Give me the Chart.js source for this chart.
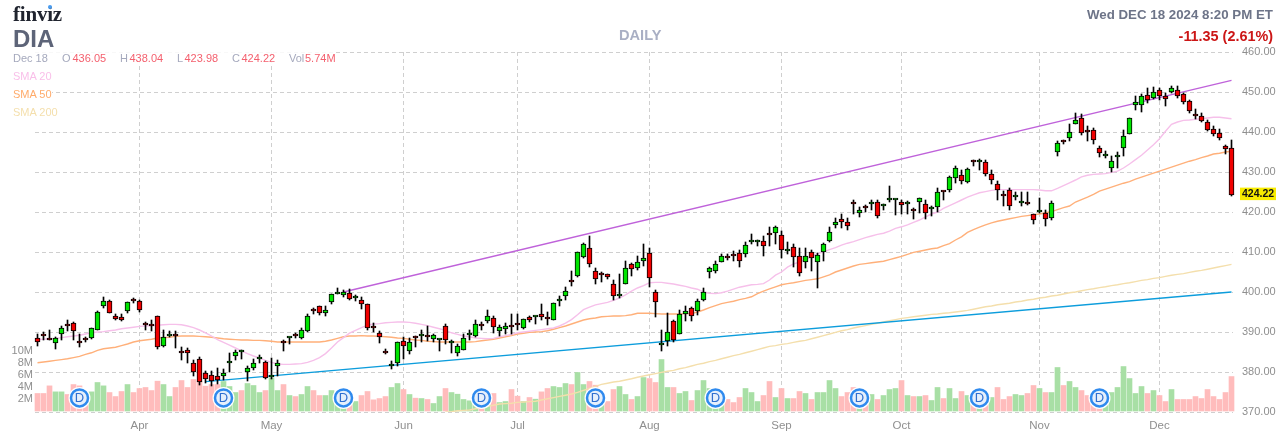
<!DOCTYPE html>
<html>
<head>
<meta charset="utf-8">
<title>DIA daily</title>
<script src="https://cdn.jsdelivr.net/npm/chart.js@4/dist/chart.umd.min.js"></script>
<style>
html,body{margin:0;padding:0;background:#fff;width:1287px;height:442px;overflow:hidden}
#wrap{position:relative;width:1287px;height:442px;font-family:"Liberation Sans",Arial,sans-serif}
canvas{position:absolute;left:0;top:0;display:block}
.t{position:absolute;white-space:nowrap;line-height:1}
.g{color:#a5a9bd}.r{color:#f4606e}
</style>
</head>
<body>
<div id="wrap">
<canvas id="c" width="1287" height="442"></canvas>
<div class="t" style="left:13px;top:2px;font:bold 21px 'Liberation Serif',serif;letter-spacing:-.2px;color:#20242f">finviz</div>
<div class="t" style="left:47.5px;top:4.5px;width:4px;height:4px;border-radius:50%;background:#4a9cf0"></div>
<div class="t" style="left:13px;top:25px;font:bold 24px 'Liberation Sans',sans-serif;color:#5d6478">DIA</div>
<div class="t" style="left:619px;top:27px;font:bold 14.6px 'Liberation Sans',sans-serif;color:#a9afc4">DAILY</div>
<div class="t" style="right:14px;top:7px;font:bold 13.3px 'Liberation Sans',sans-serif;color:#6d7488">Wed DEC 18 2024 8:20 PM ET</div>
<div class="t" style="right:14px;top:28px;font:bold 14.4px 'Liberation Sans',sans-serif;color:#cc1616">-11.35 (2.61%)</div>
<div style="position:absolute;left:12px;top:52px;width:324px;height:13px;background:rgba(255,255,255,.85)"></div>
<div class="t g" style="left:13px;top:53px;font-size:11px">Dec 18</div>
<div class="t g" style="left:62px;top:53px;font-size:11px">O</div><div class="t r" style="left:72.5px;top:53px;font-size:11px">436.05</div>
<div class="t g" style="left:120px;top:53px;font-size:11px">H</div><div class="t r" style="left:129.5px;top:53px;font-size:11px">438.04</div>
<div class="t g" style="left:177px;top:53px;font-size:11px">L</div><div class="t r" style="left:184.5px;top:53px;font-size:11px">423.98</div>
<div class="t g" style="left:232px;top:53px;font-size:11px">C</div><div class="t r" style="left:241.5px;top:53px;font-size:11px">424.22</div>
<div class="t g" style="left:289px;top:53px;font-size:11px">Vol</div><div class="t r" style="left:305px;top:53px;font-size:11px">5.74M</div>
<div class="t" style="left:13px;top:71px;font-size:11px;color:#f9bfe9;background:#fff">SMA 20</div>
<div class="t" style="left:13px;top:89px;font-size:11px;color:#ffab6b;background:#fff">SMA 50</div>
<div class="t" style="left:13px;top:107px;font-size:11px;color:#f4dfac;background:#fff">SMA 200</div>
</div>
<script>
// Daily session index: 0 = oldest candle, 199 = Dec 18 2024
const openPrices = [
388.5,389.1,388.2,387.3,389.5,391.7,392.3,387.8,388.1,388.5,
390.5,396.5,397.8,394,393.8,395.2,398,397.8,392,391.7,
394.1,386.5,388.9,389.6,385,385.5,382.3,383.3,379.8,379.3,
379,379,382.2,384,384.9,380,381,383.3,382.5,378.8,
381.5,387.5,388.5,389.3,388.5,390.2,395.4,396.5,394.7,397.5,
399.6,399.2,399.7,398.4,398,397,391.1,389.8,385.3,381.5,
382.3,387.8,385.2,388.7,389.1,389,388.3,388,391.5,387.3,
384.8,385.5,389.2,389,391.8,392.7,393.5,390.2,390.7,391.3,
391.9,391,393.8,393.7,394.5,393.3,393.1,397.7,398.9,402.6,
403.9,408.7,410.9,405.3,404.5,404.4,401.9,398.9,401.9,406.9,
405.9,407.7,409.8,400.1,386.7,387.7,392.8,389.6,394.5,396,
395.2,398,405,405.3,407.5,408.6,409.1,409.8,409.5,412.6,
412.5,412.8,414.3,414.7,414.3,410.3,411.3,408.9,407.5,410,
407.5,410,412.8,416.7,418.3,417.5,422,419.8,421,422.1,
422.5,421.5,422.9,422.9,422.6,422.1,420.4,422.5,422,420.8,
421.2,425.1,425.5,428.5,429.3,427.5,432.7,432.6,432.5,429.4,
427.1,424.2,425.6,423.8,422.3,422.1,419.4,420,419.8,418.5,
434.9,437.6,438.5,442.1,443.5,440.2,440.5,435.9,434,431,
433.7,436,439.6,446.7,446.8,449.3,448.5,450.5,449.1,450,
450.5,449.5,447.8,444.5,444,442.5,440.8,439.8,436.4,436.05];
const highPrices = [
389.4,389.9,390.6,388.8,391.6,392.9,392.5,389.4,388.8,391,
395.2,398.8,397.9,394.4,394.4,397.6,398.6,398.1,392.5,393.1,
394.1,390.6,390.2,390.2,386.2,386,382.9,383.8,380.2,380.2,
381,380.8,384.8,385.6,385.4,381.6,383.3,384.3,382.7,383.5,
383.1,388.1,388.8,389.8,391,394.4,396,396.6,396.5,399.4,
401,400.4,400.8,399.2,398.8,397,392.3,390.2,385.8,382.7,
387.5,388.8,388.5,389,390.6,391.6,389.4,388.3,392,388,
386.9,389.4,390.5,393.1,392.5,395.6,394.1,391.8,392.3,394.4,
394.4,393.3,394,394,396.9,395,397.3,399.1,401.3,405.2,
410,412.3,413.9,406,405,404.5,402.9,404.6,407.7,407.3,
409,412.1,411,400.6,390.4,394.8,393,395.4,396.6,396.2,
398.3,401,406.3,407.7,409.4,409.4,410.2,410.6,412.5,414.6,
413.1,414.1,416.3,416.6,415.3,412.5,411.9,411,411,410.4,
409.8,412.3,416.3,418.6,419.6,418.5,422.9,421.3,421.7,422.9,
423,422.1,426.4,423.3,423,422.7,421,423.5,422.9,421.5,
425.9,425.2,429,431.6,430.6,431.1,433.1,433.3,432.9,430.6,
427.7,425.2,426,425,425,424.9,419.4,423.4,420.4,422.7,
437.7,438.1,441.9,444.8,444.4,441.4,441,436.6,435.2,434.1,
434.9,440.5,443.5,448.9,449.5,450.9,451.3,451,449.8,451.5,
451.6,449.8,448.1,445.8,444.8,443.1,441.6,440.8,436.8,438.04];
const lowPrices = [
386.5,387.9,388,385.8,388.1,390.2,388,386.2,387.6,388.3,
390.4,396,394.7,392.9,392.8,394.7,397.2,395,390.5,390.2,
385.8,386.3,388.8,386,383.1,382.3,379,376.7,377.3,376.5,
377,378,380,383.1,383.3,377.7,380.6,382.3,378.3,378.3,
379.1,385.2,387,388.5,388.3,390,394.4,394.2,394,397.1,
399.4,398.8,398,397.7,395.8,390.6,390,387.3,384.5,380.8,
381.5,383.3,384.6,386.2,387.5,387.7,387.5,385.2,387,384.8,
384,385.4,388.1,388.8,390.6,392.3,389.8,389.1,389.4,389.4,
390.5,390.8,392.4,392.1,393,391.7,393,396.5,398.1,401.5,
403.8,408.5,406.2,402.1,402.5,403.3,398.1,398.5,401.9,404.1,
405.5,406.6,401.2,393.8,385.2,386.5,387.5,389.4,392.7,392.7,
394.2,397.7,403.4,404.8,407.5,407.9,407.7,406.2,408.7,411.9,
411.5,408.9,411.5,412.1,408.6,409.4,406.3,404,406.1,405.2,
400.9,407.7,412.5,416,415.9,415.6,419.6,418.7,420,420.6,
418.6,420.4,422.5,419.2,419.4,419.6,418.3,419.8,418.3,418.9,
420,423,425.1,427.3,427.1,427.2,431.5,430.4,428.9,426.9,
423.1,421.4,420.6,423.1,421.6,421.8,417.1,419.8,416.6,417.9,
433.9,436.9,437.7,441.9,439.2,437.7,437.1,433.7,433.4,430,
431,433.9,439.5,445.6,444.9,447.3,448.3,448.1,446.6,449.8,
448.5,447,444.8,443.3,442.5,440.2,439.1,438.1,434.6,423.98];
const closePrices = [
387.5,388.9,388,388.5,390.9,391.5,390.2,387.3,387.9,390.9,
395,397.7,394.8,393.2,393,397.5,397.8,395.5,391.8,391.5,
386.2,388.8,389.1,389.1,384.8,384.8,380,377.5,378.3,377.8,
378,379.8,382.4,385,385,381,382.3,383.8,378.4,378.9,
382.3,387.3,388.6,389.1,390.5,394.1,395.2,394.7,395.5,399.4,
399.8,400,398.3,398.6,397,390.9,390.9,388.8,384.8,381.6,
387.5,386.6,387.5,388.6,389.3,388.8,389.2,388.1,388,387.4,
386.5,388.5,389.3,392,391.6,394,391.2,391.3,391.5,391.2,
391.8,393.3,393,393.9,393.7,393.2,397.3,397.8,400.3,402.5,
409.9,412,407,403.2,404.3,403.7,398.9,399.6,406,405.7,
407.5,408.5,403.5,397.5,386.8,390,388,394.5,395.3,394,
397.8,400,406,406.9,409.1,408.5,409,407.7,411.7,412.7,
413,411.5,414.2,416.3,410.5,410.5,408.8,404.8,409,408.5,
409.2,411.9,415,417.5,417.5,416.5,421.9,420.5,420.9,422.2,
419.1,421.6,423,423.1,421.7,422.3,420.3,423.5,419.7,421,
425,425,428.8,431,427.7,430.7,432.6,432.8,429.5,428,
425.5,424,421.5,424.1,422.5,421.9,418,420.6,418.3,422.3,
437.3,437.4,440,443.1,439.8,440,438,434.8,434.2,432.7,
434.3,439.1,443.4,447.5,448.9,448,450,448.9,448.3,451,
449,447.5,445.3,444,442.8,440.5,439.5,438.5,435.7,424.22];
const volumeMillions = [
2.92,2.92,4.19,3.19,3.19,2.75,4.41,4.19,3.19,3.19,
4.75,4.19,3.08,2.41,3.25,4.41,3.08,3.75,3.92,3.41,
4.97,4.41,2.41,3.92,5.08,3.92,5.25,4.97,4.14,4.41,
4.41,4.92,4.08,3.08,3.41,4.58,4.25,3.08,3.41,5.52,
3.41,4.41,2.58,2.41,2.75,4.08,3.41,2.58,2.58,3.41,
3,2.2,2.9,1.58,2.58,3.25,1.86,2.08,2.41,3.92,
4.58,3.58,2.75,2.14,2.08,1.92,1.25,2.41,3.75,3.08,
2.8,1.92,1.7,2,2.4,2.2,2.92,1.41,1.58,3.58,
2.47,1.58,2.25,1.97,3.19,3.75,4.08,3.92,4.58,4.41,
6.42,4.41,4.92,4.3,2.4,1.58,3.58,4.08,2.75,1.92,
2.41,5.58,5.41,4.75,8.58,3.92,3.92,2.92,3.25,1.75,
3.41,5.08,3.75,2.5,1.5,1.92,1.41,2.25,3.75,3.08,
1.58,2.58,4.92,2.25,3.75,2.08,2.08,3.25,2.92,1.92,
3.08,3.08,5.08,3.75,2.41,3.08,3.92,2.5,2.92,2.75,
1.92,2.58,3.58,3.75,5.08,2.58,2.41,2.41,2.58,1.75,
3.92,2.08,3.75,2.08,3.25,2.58,2,1.2,1.4,2.25,
3.92,1.92,2.41,2.75,2.58,2.92,4.25,3.75,3.08,3.08,
7.25,4.25,4.92,3.92,3.41,2.58,1.5,1,2.6,3.08,
3.92,7.41,5.41,2.92,4.08,2.92,3.41,2.58,1.58,3.58,
1.92,1.92,1.92,2.41,2.08,3.58,2.41,1.92,3.08,5.74];
const volumeSides = [
"rrrggrrrrg","ggrrrgrrrr","rggrrrrrrr","rgggrgggrg","grgrggrrgg",
"ggrgrrrrrg","grgrgrggrg","ggggrgrggr","rgrgrrgggr","ggrrgrrggr",
"ggrrggrggr","gggggrrrgg","grrgrgrrgr","ggggrrrgrg","rgggrgrgrg",
"grggrgrgrg","rrrggrrgrg","grggrrrrgg","gggggrgrrg","rrrrrrrrrr"].join("");
const sma20 = [
388.1,388.2,388.3,388.4,388.6,388.8,389,389.2,389.5,389.8,
390,390.1,390.3,390.5,390.8,391,391.2,391.4,391.5,391.6,
391.7,391.8,391.9,391.9,391.8,391.5,391.1,390.5,389.8,389,
388.1,387.4,386.7,386,385.3,384.6,384,383.5,382.9,382.4,
382,381.9,381.9,382,382.1,382.4,382.9,383.6,384.6,386,
387.5,388.6,389.7,390.4,391.1,391.7,392,392.1,392.3,392.4,
392.5,392.5,392.4,392.2,391.9,391.6,391.2,390.8,390.4,389.8,
389.4,389,388.8,388.5,388.4,388.3,388.4,388.8,389.1,389.4,
389.8,390,390.2,390.4,390.6,390.8,391,391.5,392.2,393.1,
394.3,395.6,396.2,396.8,397.1,397.4,397.9,398.5,399.3,400.2,
401,401.6,402.3,402.4,402.4,402.2,402,401.7,401.4,401,
400.7,400,399.7,399.6,399.8,400.2,400.7,401.2,401.5,401.8,
401.9,402.1,403,404.2,405,406.2,407,407.5,408.1,408.9,
409.6,410,410.6,411.1,411.7,412.2,412.6,413.1,413.6,414,
414.4,414.7,415.2,415.9,416.3,416.8,417.4,418,418.8,419.5,
420,420.9,421.6,422.3,423,423.7,424.3,424.8,425.1,425.4,
425.6,425.6,425.6,425.6,425.6,425.6,425.6,425.5,425.3,425.3,
425.9,426.6,427.3,428,428.8,429.2,429.4,429.5,429.6,429.9,
430.2,431,432,433.1,434.2,435.5,436.8,438.3,440.2,441.9,
442.5,442.9,443,443.2,443.3,443.5,443.7,443.7,443.5,443.3];
const sma50 = [
382.3,382.5,382.7,382.9,383.1,383.3,383.6,383.9,384.4,384.8,
385.4,385.8,386,386.2,386.6,387,387.5,387.8,388,388.2,
388.5,388.6,388.7,388.9,389,389,389,388.9,388.8,388.7,
388.5,388.3,388.2,388.1,388,388,387.9,387.9,387.8,387.7,
387.5,387.5,387.5,387.5,387.5,387.5,387.5,387.5,387.7,388,
388.4,388.8,389,389,389.1,389,389,388.9,388.8,388.7,
388.5,388.4,388.2,388,387.9,387.7,387.6,387.5,387.5,387.5,
387.5,387.5,387.5,387.6,387.8,388,388.2,388.5,388.8,389.1,
389.5,389.7,389.9,390,390.1,390.3,390.7,391.1,391.5,392,
392.5,393,393.3,393.5,393.8,393.9,394,394,394.1,394.3,
394.7,394.7,394.7,394.6,394.5,394.5,394.5,394.5,394.6,394.6,
395,395.5,396.1,396.6,397.1,397.4,397.7,398.1,398.4,398.8,
399.6,400.2,400.8,401.3,401.8,402.1,402.3,402.6,402.9,403.1,
403.3,403.8,404.3,405,405.5,406,406.5,406.9,407.1,407.3,
407.5,407.7,408.1,408.5,408.9,409.4,409.9,410.2,410.5,410.8,
411,411.6,412.1,413,413.8,414.9,415.6,416.2,416.8,417.3,
417.7,418,418.3,418.6,418.9,419.1,419.3,419.5,419.8,420.1,
420.6,421.1,421.5,422.5,423.1,423.7,424.4,425.2,425.7,426.2,
426.7,427.2,427.6,428.2,428.7,429.2,429.7,430.2,430.7,431.2,
431.7,432.2,432.7,433.1,433.6,434,434.5,434.7,435,435.2];
const sma200 = [
null,null,null,null,null,null,null,null,null,null,
null,null,null,null,null,null,null,null,null,null,
null,null,null,null,null,null,null,null,null,null,
null,null,null,null,null,null,null,null,null,null,
null,null,null,null,null,null,null,null,null,null,
null,null,null,null,null,null,null,null,null,null,
null,null,null,null,null,null,null,null,370,370.1,
370.3,370.4,370.5,370.8,371.1,371.4,371.7,372,372.1,372.2,
372.4,372.5,372.6,372.7,373,373.3,373.6,373.9,374.2,374.5,
374.9,375.4,375.9,376.4,376.9,377.2,377.5,377.7,378,378.3,
378.7,379,379.3,379.6,379.9,380.2,380.4,380.8,381.1,381.5,
381.9,382.2,382.6,382.9,383.3,383.7,384.1,384.4,384.8,385.2,
385.6,386,386.4,386.6,386.9,387.1,387.4,387.7,387.9,388.3,
388.7,389.1,389.5,389.9,390.3,390.6,391,391.3,391.6,391.9,
392.2,392.5,392.8,393.1,393.4,393.6,393.8,394,394.2,394.4,
394.5,394.7,394.8,395,395.2,395.4,395.7,396,396.3,396.5,
396.8,397,397.2,397.5,397.7,398,398.2,398.5,398.7,399,
399.2,399.5,399.8,400,400.3,400.6,400.8,401.1,401.3,401.6,
401.8,402.1,402.3,402.6,402.9,403.1,403.4,403.6,403.9,404.2,
404.4,404.6,404.9,405.2,405.4,405.7,406,406.3,406.6,406.9];
const upperTrendIndex = [51, 199];
const upperTrendPrice = [400, 452.9];
const lowerTrendIndex = [28, 199];
const lowerTrendPrice = [377.6, 400];
const dividendIndex = [7, 31, 51, 74, 93, 113, 137, 157, 177];
const dividendLevel = 2.17;
const monthIndex = [17, 39, 61, 80, 102, 124, 144, 167, 187];
const monthLabels = ["Apr", "May", "Jun", "Jul", "Aug", "Sep", "Oct", "Nov", "Dec"];
const priceTicks = [370, 380, 390, 400, 410, 420, 430, 440, 450, 460];
const volumeTicks = [2, 4, 6, 8, 10];

const sessions = closePrices.map((_, i) => i);
const GRID = "#cfcfcf", LABEL = "#8f8f8f", FAMILY = "'Liberation Sans', Arial, sans-serif";
// the reference draws candles on whole pixels: one pixel is a quarter of a dollar
const snap = v => Math.round(v * 4) / 4;

const overlay = {
  id: "overlay",
  afterDraw(chart) {
    const c = chart.ctx, yp = chart.scales.y, xs = chart.scales.x, yv = chart.scales.vol;
    c.save();
    c.textAlign = "center"; c.textBaseline = "middle";
    c.font = "13px " + FAMILY; c.fillStyle = "#2f6fd0";
    dividendIndex.forEach(i => c.fillText("D", xs.getPixelForValue(i), yv.getPixelForValue(dividendLevel) + .5));
    const last = closePrices[closePrices.length - 1], py = yp.getPixelForValue(last);
    c.fillStyle = "#f8ec00"; c.fillRect(1240, py - 7.5, 36, 12.5);
    c.fillStyle = "#111"; c.textAlign = "left"; c.font = "bold 10.5px " + FAMILY;
    c.fillText(last.toFixed(2), 1242, py - 1);
    c.restore();
  }
};

new Chart(document.getElementById("c"), {
  data: {
    labels: sessions,
    datasets: [
      { type: "bar", label: "Volume", yAxisID: "vol", data: volumeMillions, order: 20, grouped: false,
        barThickness: 5, maxBarThickness: 5, clip: false,
        backgroundColor: sessions.map(i => volumeSides[i] === "g" ? "#a8dfa5" : "#ffbcbc") },
      { type: "line", label: "SMA 200", yAxisID: "y", data: sma200, order: 15, borderColor: "#f4dfac", borderWidth: 1.4, pointRadius: 0, tension: 0, spanGaps: false },
      { type: "line", label: "SMA 50", yAxisID: "y", data: sma50, order: 14, borderColor: "#ffb07a", borderWidth: 1.4, pointRadius: 0, tension: 0 },
      { type: "line", label: "SMA 20", yAxisID: "y", data: sma20, order: 13, borderColor: "#f6c0ea", borderWidth: 1.4, pointRadius: 0, tension: 0 },
      { type: "line", label: "Upper trend", yAxisID: "y", order: 12, borderColor: "#bf62da", borderWidth: 1.3, pointRadius: 0, tension: 0,
        data: upperTrendIndex.map((x, i) => ({ x, y: upperTrendPrice[i] })) },
      { type: "line", label: "Lower trend", yAxisID: "y", order: 11, borderColor: "#0d9ddc", borderWidth: 1.3, pointRadius: 0, tension: 0,
        data: lowerTrendIndex.map((x, i) => ({ x, y: lowerTrendPrice[i] })) },
      { type: "bar", label: "Wick", yAxisID: "y", order: 6, grouped: false, barThickness: 1, maxBarThickness: 1, clip: false,
        backgroundColor: "#000", data: sessions.map(i => [snap(lowPrices[i]), snap(highPrices[i])]) },
      { type: "bar", label: "Body", yAxisID: "y", order: 5, grouped: false, barThickness: 5, maxBarThickness: 5, clip: false,
        minBarLength: 2, borderWidth: 1, borderColor: "#000", borderSkipped: false,
        backgroundColor: sessions.map(i => closePrices[i] >= openPrices[i] ? "#00e400" : "#f00000"),
        data: sessions.map(i => [snap(openPrices[i]), snap(closePrices[i])]) },
      { type: "line", label: "Dividend halo", yAxisID: "vol", order: 2, showLine: false, clip: false,
        pointRadius: 11, pointBackgroundColor: "#fff", pointBorderWidth: 0,
        data: dividendIndex.map(x => ({ x, y: dividendLevel })) },
      { type: "line", label: "Dividend", yAxisID: "vol", order: 1, showLine: false, clip: false,
        pointRadius: 8.5, pointBackgroundColor: "#e6f0fc", pointBorderColor: "#2f8aee", pointBorderWidth: 2.5,
        data: dividendIndex.map(x => ({ x, y: dividendLevel })) }
    ]
  },
  plugins: [overlay],
  options: {
    responsive: false, animation: false, events: [],
    layout: { autoPadding: false, padding: { top: 52, left: 0, right: 0, bottom: 0 } },
    plugins: { legend: { display: false }, tooltip: { enabled: false } },
    scales: {
      x: {
        type: "linear", min: -0.4167, max: 199.25, offset: false,
        afterBuildTicks(s) { s.ticks = monthIndex.map(value => ({ value })); },
        afterFit(s) { s.height = 30; },
        grid: { offset: false, color: GRID, drawTicks: false, lineWidth: 1 },
        border: { display: false, dash: [4, 3] },
        ticks: { autoSkip: false, maxRotation: 0, padding: 7, color: LABEL, font: { family: FAMILY, size: 11.5 },
          callback(v) { const k = monthIndex.indexOf(v); return k < 0 ? "" : monthLabels[k]; } }
      },
      y: {
        type: "linear", position: "right", min: 370, max: 460,
        afterBuildTicks(s) { s.ticks = priceTicks.map(value => ({ value })); },
        afterFit(s) { s.width = 54; },
        grid: { color: GRID, drawTicks: false, lineWidth: 1 },
        border: { display: false, dash: [4, 3] },
        ticks: { padding: 9, labelOffset: 0, color: LABEL, font: { family: FAMILY, size: 11 }, callback: v => v.toFixed(2) }
      },
      vol: {
        type: "linear", position: "left", min: -0.1667, max: 59.8333,
        afterBuildTicks(s) { s.ticks = volumeTicks.map(value => ({ value })); },
        afterFit(s) { s.width = 35; },
        grid: { display: false, drawTicks: false },
        border: { display: false },
        ticks: { padding: 2, labelOffset: 0, color: LABEL, font: { family: FAMILY, size: 11 }, callback: v => v + "M" }
      }
    }
  }
});
</script>
</body>
</html>
